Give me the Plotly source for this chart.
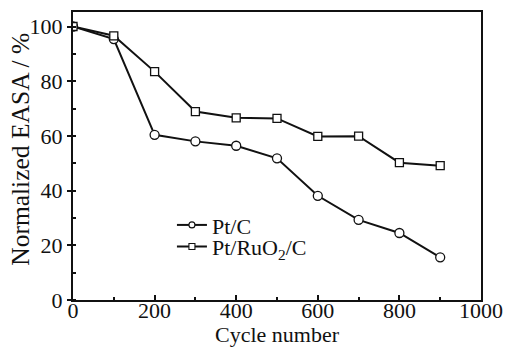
import plotly.graph_objects as go

cycles = [0, 100, 200, 300, 400, 500, 600, 700, 800, 900]
pt_c = [100, 95.4, 60.4, 58.0, 56.4, 51.8, 38.1, 29.3, 24.5, 15.6]
pt_ruo2_c = [100, 96.6, 83.5, 68.9, 66.6, 66.4, 59.8, 59.9, 50.2, 49.1]
names = ["Pt/C", "Pt/RuO<sub>2</sub>/C"]
x_title = "Cycle number"
y_title = "Normalized EASA / %"

FONT = "Liberation Serif"
INK = "#111"
fig = go.Figure()
fig.add_trace(go.Scatter(x=cycles, y=pt_c, mode="lines+markers", showlegend=False,
                         line=dict(color=INK, width=2),
                         marker=dict(symbol="circle", size=9, color="white",
                                     line=dict(color=INK, width=1.3))))
fig.add_trace(go.Scatter(x=cycles, y=pt_ruo2_c, mode="lines+markers", showlegend=False,
                         line=dict(color=INK, width=2),
                         marker=dict(symbol="square", size=8, color="white",
                                     line=dict(color=INK, width=1.3))))
# legend entries (two separate legends so the row spacing matches)
fig.add_trace(go.Scatter(x=[None], y=[None], mode="lines+markers", name=names[0],
                         legend="legend",
                         line=dict(color=INK, width=2),
                         marker=dict(symbol="circle", size=6, color="white",
                                     line=dict(color=INK, width=1.1))))
fig.add_trace(go.Scatter(x=[None], y=[None], mode="lines+markers", name=names[1],
                         legend="legend2",
                         line=dict(color=INK, width=2),
                         marker=dict(symbol="square", size=6, color="white",
                                     line=dict(color=INK, width=1.1))))

leg_common = dict(xanchor="left", yanchor="middle", bgcolor="rgba(0,0,0,0)",
                  font=dict(size=22, family=FONT, color=INK), itemwidth=30)
fig.update_layout(
    width=505, height=347,
    margin=dict(l=73, r=24, t=12, b=47),
    paper_bgcolor="white", plot_bgcolor="white",
    font=dict(family=FONT, color=INK, size=22),
    legend=dict(x=0.2425, y=0.260, **leg_common),
    legend2=dict(x=0.2425, y=0.185, **leg_common),
    annotations=[dict(text=y_title, xref="paper", yref="paper", x=-0.1275, y=0.525,
                      xanchor="center", yanchor="middle", textangle=-90, showarrow=False,
                      font=dict(size=25.5, family=FONT, color=INK))],
)
fig.update_xaxes(range=[0, 1000], tickvals=[0, 200, 400, 600, 800, 1000],
                 ticks="inside", ticklen=5, tickwidth=1.5, tickcolor=INK,
                 minor=dict(ticks="inside", ticklen=3, dtick=100, tickcolor=INK),
                 showline=True, linecolor=INK, linewidth=2, mirror=True,
                 showgrid=False, zeroline=False, automargin=False,
                 ticklabelstandoff=-10,
                 tickfont=dict(size=22, family=FONT),
                 title=dict(text=x_title, font=dict(size=22, family=FONT), standoff=0))
fig.update_yaxes(range=[0, 105.3], tickvals=[0, 20, 40, 60, 80, 100],
                 ticks="outside", ticklen=4, tickwidth=1.5, tickcolor=INK,
                 minor=dict(ticks="inside", ticklen=3, dtick=10, tickcolor=INK),
                 showline=True, linecolor=INK, linewidth=2, mirror=True,
                 showgrid=False, zeroline=False, automargin=False,
                 tickfont=dict(size=22, family=FONT))

fig.write_html("out.html")
